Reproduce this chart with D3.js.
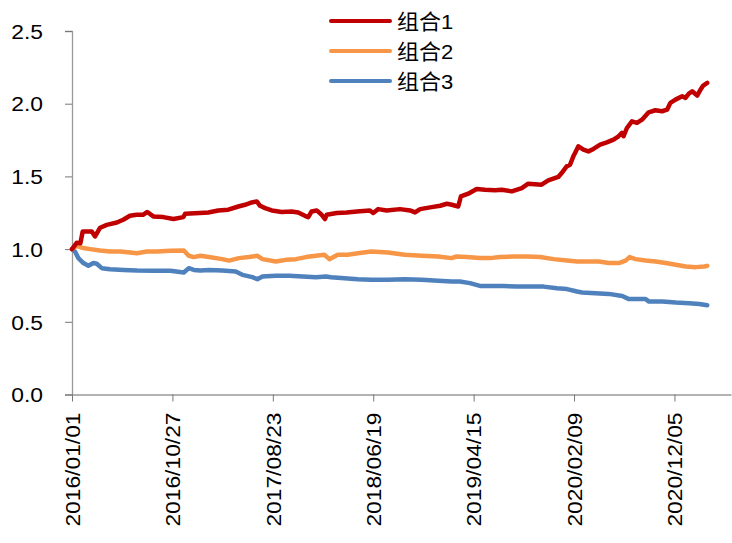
<!DOCTYPE html>
<html>
<head>
<meta charset="utf-8">
<script src="https://cdn.jsdelivr.net/npm/d3@7"></script>
<style>
  html, body { margin: 0; padding: 0; background: #fff; }
  svg { display: block; }
  text { font-family: "Liberation Sans", Arial, "Noto Sans CJK SC", sans-serif; fill: #000; }
</style>
</head>
<body>
<svg id="chart" width="732" height="543"></svg>
<script>
// ---- data (x = days since 2016/01/01) ----
const seriesNames = ["组合1", "组合2", "组合3"];
const seriesColors = ["#C00000", "#F79646", "#4F81BD"];

const g1Days = [0,14,25,32,59,69,84,104,134,153,173,193,212,225,243,273,303,333,338,382,407,437,467,497,517,537,552,562,577,597,627,656,676,696,706,716,731,746,756,761,791,821,851,890,900,915,940,980,1010,1025,1040,1070,1100,1120,1135,1154,1162,1184,1209,1234,1264,1284,1314,1344,1363,1403,1423,1453,1463,1478,1488,1498,1503,1513,1528,1543,1558,1578,1598,1618,1633,1643,1648,1658,1673,1688,1703,1723,1743,1763,1778,1788,1803,1823,1833,1843,1853,1868,1878,1886,1898];
const g1Values = [1.00,1.043,1.04,1.121,1.121,1.087,1.147,1.167,1.183,1.202,1.229,1.236,1.236,1.255,1.225,1.220,1.207,1.220,1.243,1.248,1.252,1.266,1.271,1.293,1.305,1.321,1.328,1.298,1.282,1.266,1.255,1.259,1.252,1.229,1.220,1.259,1.266,1.236,1.207,1.236,1.248,1.252,1.259,1.266,1.248,1.275,1.266,1.275,1.266,1.252,1.275,1.287,1.298,1.312,1.305,1.293,1.362,1.381,1.413,1.408,1.404,1.408,1.397,1.420,1.450,1.443,1.472,1.496,1.523,1.569,1.58,1.638,1.661,1.707,1.684,1.672,1.689,1.718,1.734,1.753,1.776,1.799,1.776,1.833,1.879,1.868,1.890,1.941,1.955,1.948,1.959,2.006,2.028,2.051,2.040,2.070,2.085,2.056,2.097,2.125,2.143];

const g2Days = [0,14,34,54,84,114,144,174,194,224,254,294,334,349,364,384,409,449,469,499,529,554,569,609,639,669,699,729,754,769,794,824,854,894,944,994,1044,1094,1134,1149,1179,1219,1249,1279,1319,1359,1399,1439,1479,1509,1534,1574,1604,1634,1654,1666,1684,1714,1744,1774,1804,1834,1864,1889,1898];
const g2Values = [1.00,1.023,1.007,1.000,0.990,0.983,0.983,0.977,0.972,0.983,0.983,0.988,0.990,0.954,0.945,0.954,0.945,0.931,0.921,0.938,0.945,0.954,0.931,0.915,0.926,0.931,0.945,0.954,0.961,0.931,0.961,0.961,0.972,0.983,0.977,0.961,0.954,0.949,0.938,0.949,0.945,0.938,0.938,0.945,0.949,0.949,0.945,0.931,0.921,0.915,0.915,0.915,0.904,0.904,0.921,0.945,0.931,0.921,0.915,0.904,0.892,0.880,0.876,0.880,0.885];

const g3Days = [0,9,19,34,49,64,74,89,114,154,194,244,294,334,349,364,384,409,449,489,509,539,554,569,609,649,689,729,759,774,814,854,894,944,994,1044,1094,1134,1159,1189,1219,1249,1289,1329,1369,1409,1449,1479,1509,1524,1564,1604,1644,1664,1694,1714,1724,1764,1804,1844,1874,1898];
const g3Values = [1.00,0.983,0.938,0.904,0.885,0.904,0.899,0.869,0.862,0.857,0.853,0.851,0.851,0.839,0.869,0.857,0.853,0.857,0.853,0.846,0.823,0.807,0.793,0.811,0.816,0.816,0.811,0.807,0.811,0.807,0.800,0.793,0.789,0.789,0.793,0.789,0.782,0.777,0.777,0.766,0.747,0.747,0.747,0.742,0.742,0.742,0.731,0.725,0.708,0.701,0.697,0.692,0.678,0.656,0.656,0.656,0.639,0.639,0.632,0.628,0.623,0.614];

const xTickLabels = ["2016/01/01","2016/10/27","2017/08/23","2018/06/19","2019/04/15","2020/02/09","2020/12/05"];
const yTickValues = [0.0, 0.5, 1.0, 1.5, 2.0, 2.5];

// ---- layout ----
const svg = d3.select("#chart");
const parse = d3.timeParse("%Y/%m/%d");
const fmt = d3.timeFormat("%Y/%m/%d");
const startDate = parse(xTickLabels[0]);
const plotLeft = 72, plotRight = 731, plotTop = 31, plotBottom = 394.5;

const x = d3.scaleTime()
  .domain([startDate, d3.timeDay.offset(startDate, 1969)])
  .range([plotLeft, plotRight]);
const y = d3.scaleLinear().domain([0, 2.5]).range([plotBottom, plotTop]);

const series = [
  {days: g1Days, values: g1Values},
  {days: g2Days, values: g2Values},
  {days: g3Days, values: g3Values}
].map((s, i) => ({
  name: seriesNames[i], color: seriesColors[i],
  points: s.days.map((d, j) => ({date: d3.timeDay.offset(startDate, d), v: s.values[j]}))
}));

function widen(sel, k) {
  sel.each(function () {
    const w = this.getComputedTextLength();
    d3.select(this).attr("textLength", w * k).attr("lengthAdjust", "spacingAndGlyphs");
  });
}

// axes
const yAxis = d3.axisLeft(y).tickValues(yTickValues).tickFormat(d3.format(".1f")).tickSize(7).tickPadding(22);
const gy = svg.append("g").attr("transform", `translate(${plotLeft},0)`).call(yAxis);
gy.select(".domain").attr("stroke", "#999").attr("stroke-width", 1.3);
gy.selectAll(".tick line").attr("stroke", "#777").attr("stroke-width", 1);
gy.selectAll(".tick text").style("font-size", "20px").attr("dy", "0.36em").call(widen, 1.14);

const xAxis = d3.axisBottom(x).tickValues(xTickLabels.map(parse)).tickFormat(fmt).tickSize(7).tickSizeOuter(0);
const gx = svg.append("g").attr("transform", `translate(0,${plotBottom})`).call(xAxis);
gx.select(".domain").attr("stroke", "#999").attr("stroke-width", 1.3);
gx.selectAll(".tick line").attr("stroke", "#777").attr("stroke-width", 1);
gx.selectAll(".tick text")
  .style("font-size", "20px")
  .attr("text-anchor", "end")
  .attr("transform", "rotate(-90)")
  .attr("x", -18).attr("y", 0).attr("dy", "0.36em")
  .call(widen, 1.14);

// lines
const line = d3.line().x(d => x(d.date)).y(d => y(d.v)).curve(d3.curveLinear);
svg.append("g").selectAll("path").data(series.slice().reverse()).join("path")
  .attr("d", d => line(d.points))
  .attr("fill", "none")
  .attr("stroke", d => d.color)
  .attr("stroke-width", 4.5)
  .attr("stroke-linejoin", "round")
  .attr("stroke-linecap", "round");

// legend
const lg = svg.append("g");
series.forEach((s, i) => {
  const ly = 21 + i * 30;
  lg.append("line").attr("x1", 331).attr("x2", 390).attr("y1", ly).attr("y2", ly)
    .attr("stroke", s.color).attr("stroke-width", 4).attr("stroke-linecap", "round");
  lg.append("text").attr("x", 397).attr("y", ly).attr("dy", "0.36em")
    .style("font-size", "21px").text(s.name).call(widen, 1.05);
});
</script>
</body>
</html>
